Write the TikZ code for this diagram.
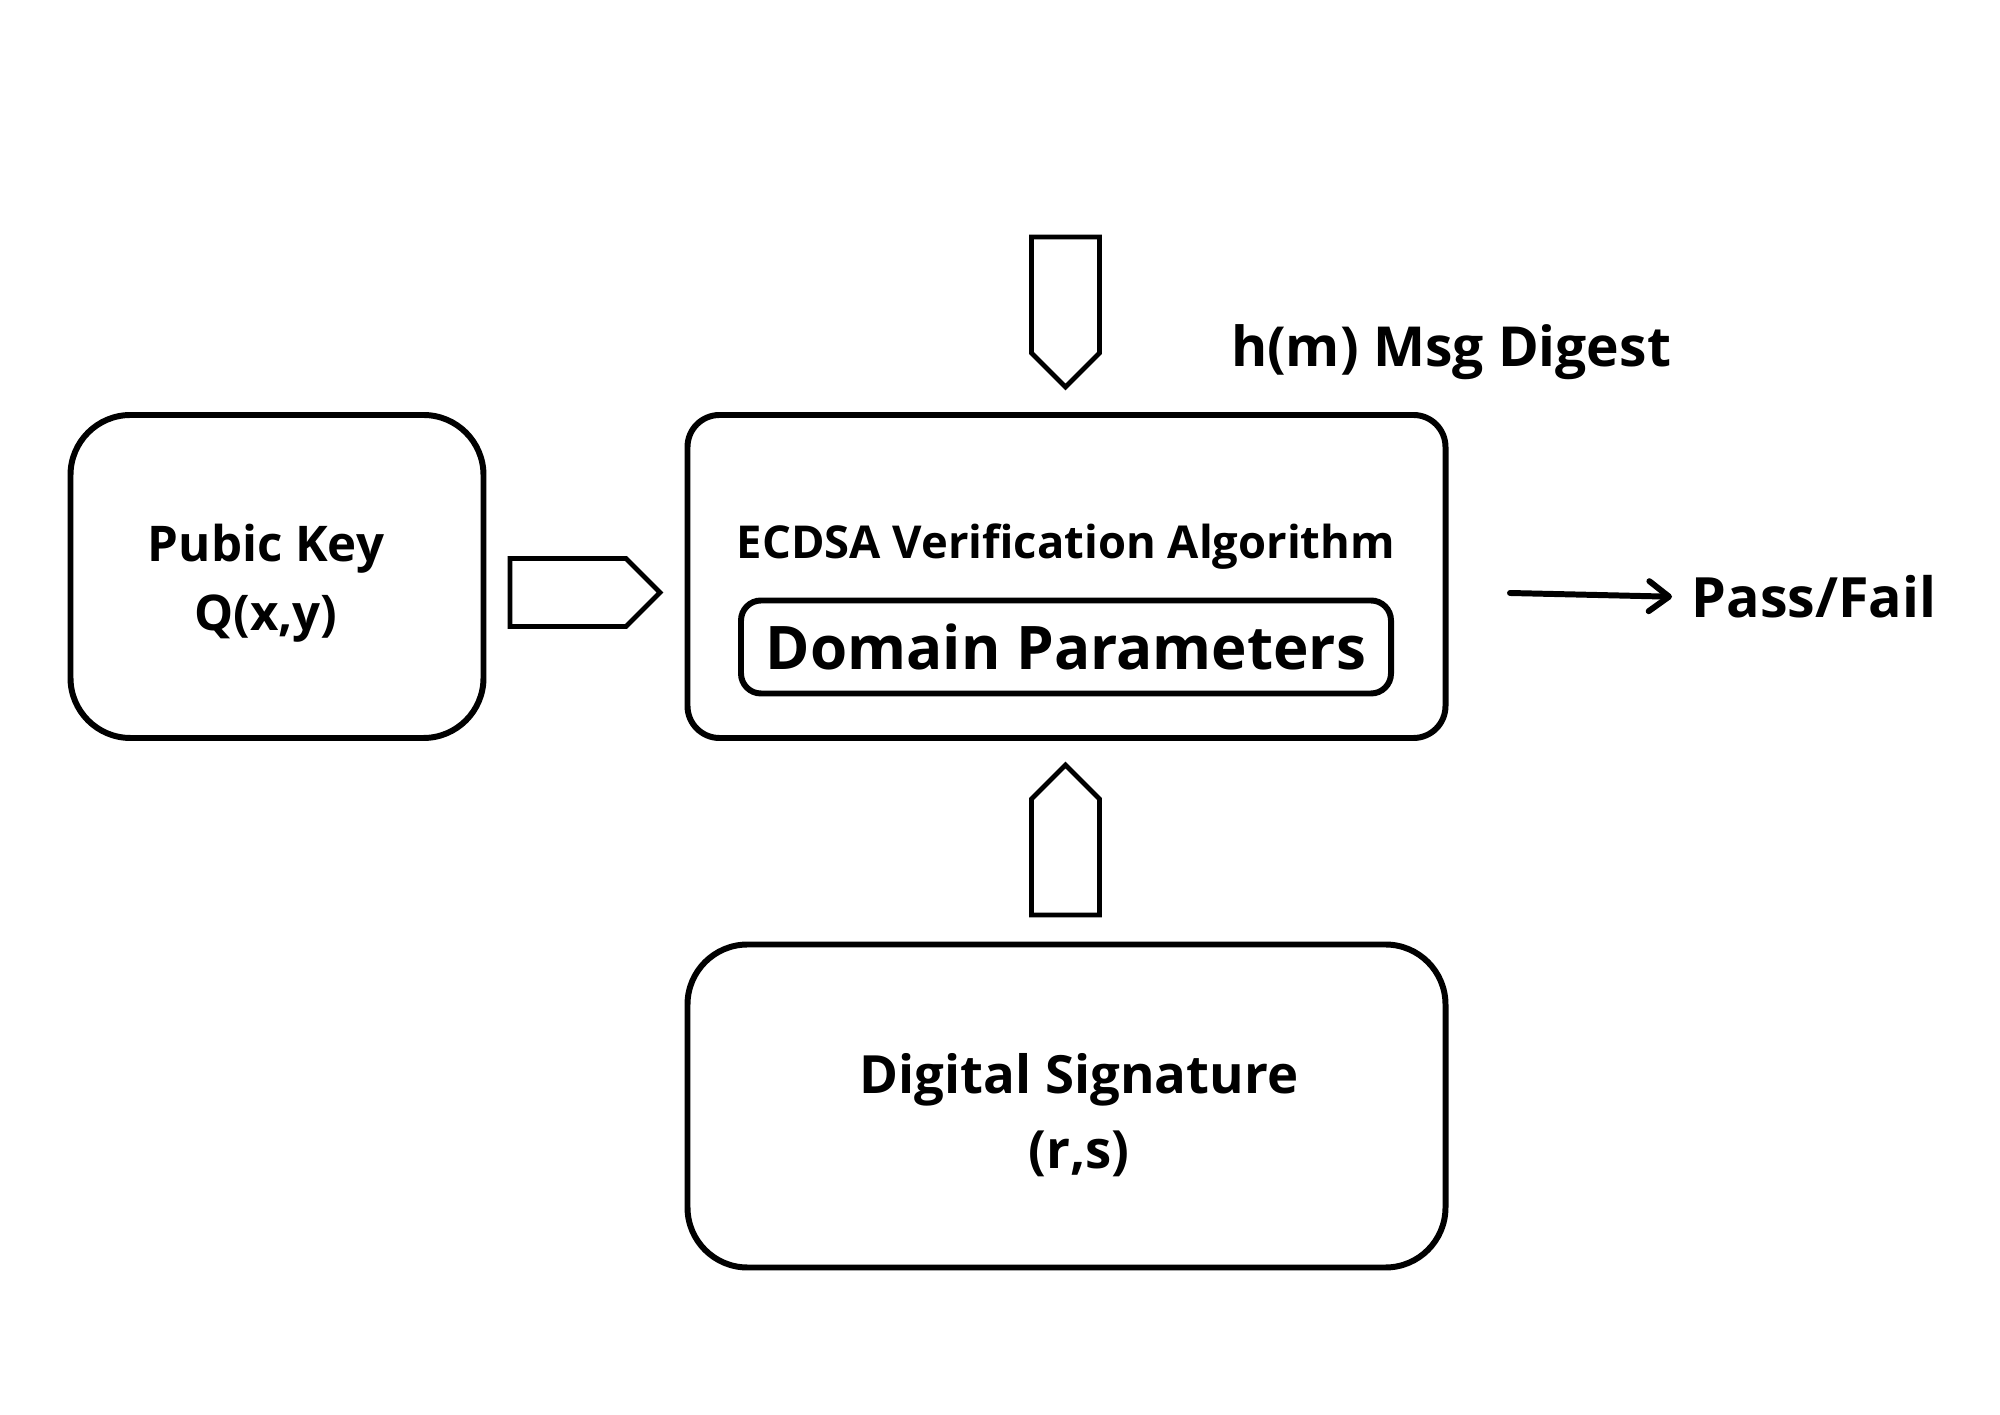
\documentclass[tikz,border=0pt]{standalone}
\usepackage{fontspec}
\setmainfont{Open Sans}
\usetikzlibrary{shapes.arrows,arrows.meta}

\begin{document}
\begin{tikzpicture}[
    box/.style={draw, line width=1.7pt, rounded corners=#1, align=center},
    blockarrow/.style={draw, line width=1.35pt, single arrow, single arrow head extend=0pt,
      single arrow tip angle=90, minimum height=1.5cm, minimum width=0.68cm, inner sep=0pt},
    lbl/.style={font=\bfseries\fontsize{#1}{#1}\selectfont},
    twolines/.style 2 args={align=center, font=\bfseries\fontsize{#1}{#2}\selectfont}
  ]

  \fill[white] (0,0) rectangle (20,14.14);
  \useasboundingbox (0,0) rectangle (20,14.14);

  % boxes
  \node[box=0.6cm, minimum width=4.13cm, minimum height=3.23cm] (pub) at (2.77,8.375) {};
  \node[twolines={14}{19.6}] (pubtxt) at (2.66,8.305) {Pubic Key\\Q(x,y)};
  \node[box=0.32cm, minimum width=7.58cm, minimum height=3.23cm] (alg) at (10.665,8.375) {};
  \node[lbl=12.9] (ecdsa) at (10.66,8.675) {ECDSA Verification Algorithm};
  \node[box=0.2cm, minimum width=6.5cm, minimum height=0.93cm, lbl=17.1] (dom) at (10.66,7.67) {Domain Parameters};
  \node[box=0.6cm, minimum width=7.58cm, minimum height=3.23cm] (sig) at (10.665,3.08) {};
  \node[twolines={15}{21.4}] (sigtxt) at (10.79,2.985) {Digital Signature\\(r,s)};

  % inputs
  \node[blockarrow] (keyin) at (5.68,8.214) {};
  \node[blockarrow, shape border rotate=270] (hashin) at (10.655,11.19) {};
  \node[blockarrow, shape border rotate=90] (sigin) at (10.655,5.57) {};
  \node[lbl=15.7] (hm) at (14.51,10.615) {h(m) Msg Digest};

  % output
  \node[lbl=15.8, anchor=west, inner sep=0.07cm] (pf) at (16.84,8.17) {Pass/Fail};
  \coordinate (algout) at (15.10,8.21);
  \draw[line width=1.7pt, line cap=round, shorten >=0.12cm,
    -{Straight Barb[length=0.2cm, width=0.3cm, line cap=round, line join=round]}] (algout) -- (pf.west);

\end{tikzpicture}
\end{document}
